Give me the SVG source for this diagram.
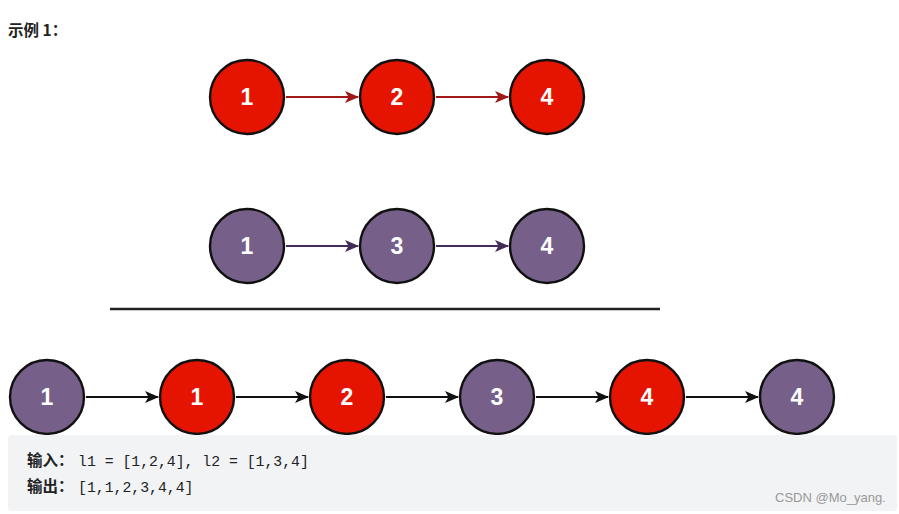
<svg xmlns="http://www.w3.org/2000/svg" width="899" height="514" viewBox="0 0 899 514">
<style>
.red{fill:#e51400;stroke:#111;stroke-width:2.4}
.pur{fill:#76608a;stroke:#111;stroke-width:2.4}
.num{font-family:"Liberation Sans",Arial,sans-serif;font-weight:bold;font-size:23px;fill:#fff;text-anchor:middle}
.ar{stroke-width:2;fill:none}
.cn{font-family:"Noto Sans CJK SC","Liberation Sans",sans-serif;font-weight:bold;font-size:15.5px;fill:#222}
.mono{font-family:"Liberation Mono","DejaVu Sans Mono",monospace;font-size:14.8px;fill:#222}
</style>
<defs>
<marker id="mr" viewBox="0 0 14 12" refX="13" refY="6" markerWidth="14" markerHeight="12" markerUnits="userSpaceOnUse" orient="auto"><path d="M0,0 L14,6 L0,12 L3.5,6 Z" fill="#a01818"/></marker>
<marker id="mp" viewBox="0 0 14 12" refX="13" refY="6" markerWidth="14" markerHeight="12" markerUnits="userSpaceOnUse" orient="auto"><path d="M0,0 L14,6 L0,12 L3.5,6 Z" fill="#432d57"/></marker>
<marker id="mb" viewBox="0 0 14 12" refX="13" refY="6" markerWidth="14" markerHeight="12" markerUnits="userSpaceOnUse" orient="auto"><path d="M0,0 L14,6 L0,12 L3.5,6 Z" fill="#111"/></marker>
</defs>
<rect width="899" height="514" fill="#fff"/>
<text class="cn" x="8" y="36">示例 1：</text>
<g id="connectors">
<line class="ar" x1="286" y1="97" x2="358" y2="97" stroke="#a01818" marker-end="url(#mr)"/>
<line class="ar" x1="436" y1="97" x2="508" y2="97" stroke="#a01818" marker-end="url(#mr)"/>
<line class="ar" x1="286" y1="246" x2="358" y2="246" stroke="#432d57" marker-end="url(#mp)"/>
<line class="ar" x1="436" y1="246" x2="508" y2="246" stroke="#432d57" marker-end="url(#mp)"/>
<line class="ar" x1="86" y1="397" x2="158" y2="397" stroke="#111" marker-end="url(#mb)"/>
<line class="ar" x1="236" y1="397" x2="308" y2="397" stroke="#111" marker-end="url(#mb)"/>
<line class="ar" x1="386" y1="397" x2="458" y2="397" stroke="#111" marker-end="url(#mb)"/>
<line class="ar" x1="536" y1="397" x2="608" y2="397" stroke="#111" marker-end="url(#mb)"/>
<line class="ar" x1="686" y1="397" x2="758" y2="397" stroke="#111" marker-end="url(#mb)"/>
</g>
<g id="a1"><circle class="red" cx="247" cy="97" r="37"/><text class="num" x="247" y="105">1</text></g>
<g id="a2"><circle class="red" cx="397" cy="97" r="37"/><text class="num" x="397" y="105">2</text></g>
<g id="a4"><circle class="red" cx="547" cy="97" r="37"/><text class="num" x="547" y="105">4</text></g>
<g id="b1"><circle class="pur" cx="247" cy="246" r="37"/><text class="num" x="247" y="254">1</text></g>
<g id="b3"><circle class="pur" cx="397" cy="246" r="37"/><text class="num" x="397" y="254">3</text></g>
<g id="b4"><circle class="pur" cx="547" cy="246" r="37"/><text class="num" x="547" y="254">4</text></g>
<line x1="110" y1="309" x2="660" y2="309" stroke="#222" stroke-width="2.5"/>
<g id="c1"><circle class="pur" cx="47" cy="397" r="37"/><text class="num" x="47" y="405">1</text></g>
<g id="c2"><circle class="red" cx="197" cy="397" r="37"/><text class="num" x="197" y="405">1</text></g>
<g id="c3"><circle class="red" cx="347" cy="397" r="37"/><text class="num" x="347" y="405">2</text></g>
<g id="c4"><circle class="pur" cx="497" cy="397" r="37"/><text class="num" x="497" y="405">3</text></g>
<g id="c5"><circle class="red" cx="647" cy="397" r="37"/><text class="num" x="647" y="405">4</text></g>
<g id="c6"><circle class="pur" cx="797" cy="397" r="37"/><text class="num" x="797" y="405">4</text></g>
<rect x="8" y="435" width="889" height="76" rx="4" fill="#f2f3f5"/>
<text class="cn" x="27" y="466">输入：</text>
<text class="mono" x="78" y="466">l1 = [1,2,4], l2 = [1,3,4]</text>
<text class="cn" x="27" y="492">输出：</text>
<text class="mono" x="78" y="492">[1,1,2,3,4,4]</text>
<text x="775" y="502" font-family="Liberation Sans,Arial,sans-serif" font-size="13" fill="#999">CSDN @Mo_yang.</text>
</svg>
